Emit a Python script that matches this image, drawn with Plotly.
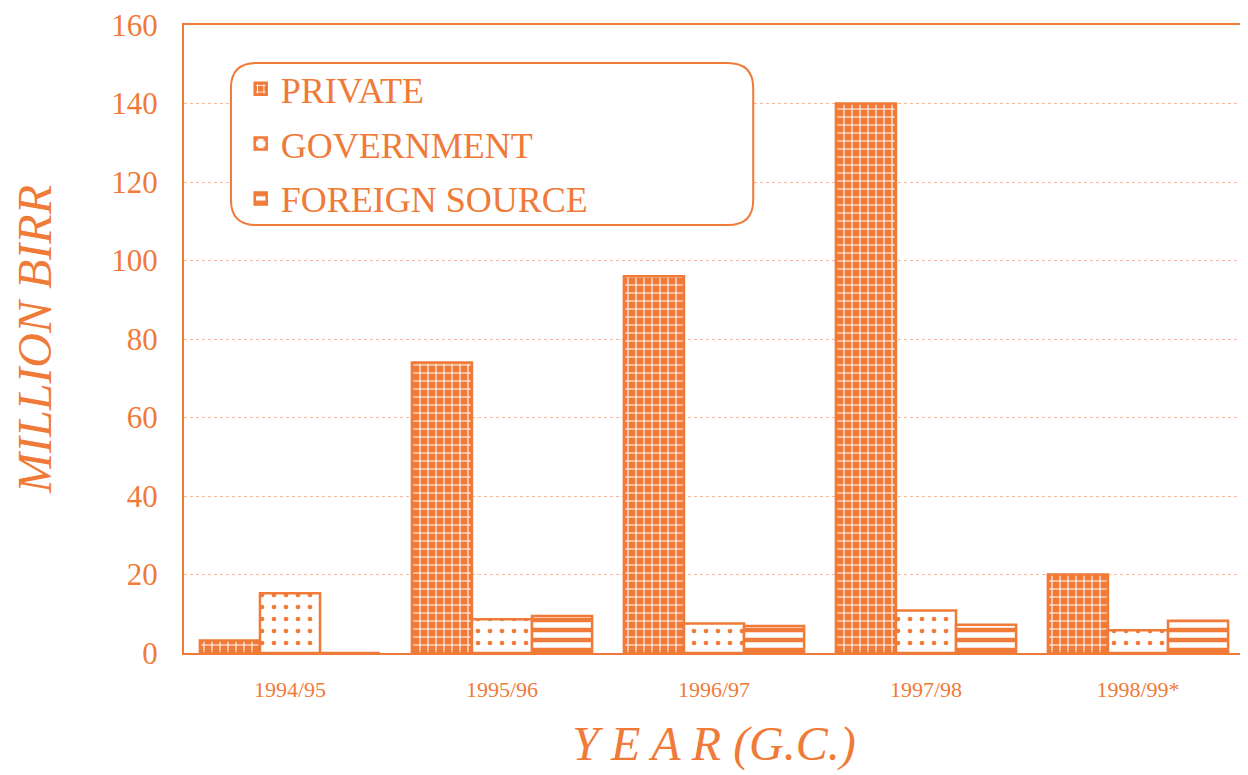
import plotly.graph_objects as go

years = ["1994/95", "1995/96", "1996/97", "1997/98", "1998/99*"]
private = [3.2, 74, 96, 140, 20]
government = [15.2, 8.6, 7.5, 10.8, 5.8]
foreign = [0, 9.4, 6.9, 7.2, 8.2]
y_ticks = [0, 20, 40, 60, 80, 100, 120, 140, 160]

OR = "#F07A38"
FONT = "Liberation Serif, Times New Roman, serif"

fig = go.Figure()
fig.add_trace(go.Bar(
    x=years, y=private, name="PRIVATE", legendgroup="a",
    marker=dict(color=OR, line=dict(color=OR, width=2.5),
                pattern=dict(shape="+", fgcolor="white", bgcolor=OR, fgopacity=1,
                             size=8, solidity=0.25)),
))
fig.add_trace(go.Bar(
    x=years, y=government, name="GOVERNMENT", legendgroup="b",
    marker=dict(color="white", line=dict(color=OR, width=2.5),
                pattern=dict(shape=".", fgcolor=OR, bgcolor="white", fgopacity=1,
                             size=12, solidity=0.12)),
))
fig.add_trace(go.Bar(
    x=years, y=foreign, name="FOREIGN SOURCE", legendgroup="c",
    marker=dict(color="white", line=dict(color=OR, width=2.5),
                pattern=dict(shape="-", fgcolor=OR, bgcolor="white", fgopacity=1,
                             size=10, solidity=0.45)),
))

# rounded legend frame (paper coords)
x0, x1, y0, y1 = 0.0443, 0.537, 0.6815, 0.9395
rx, ry = 0.024, 0.04
path = (f"M {x0+rx},{y1} L {x1-rx},{y1} Q {x1},{y1} {x1},{y1-ry} "
        f"L {x1},{y0+ry} Q {x1},{y0} {x1-rx},{y0} L {x0+rx},{y0} "
        f"Q {x0},{y0} {x0},{y0+ry} L {x0},{y1-ry} Q {x0},{y1} {x0+rx},{y1} Z")
fig.add_shape(type="path", path=path, xref="paper", yref="paper",
              line=dict(color=OR, width=2), fillcolor="white", layer="above")

fig.update_layout(
    width=1240, height=767,
    margin=dict(l=176, r=4, t=17, b=122, autoexpand=False),
    paper_bgcolor="white", plot_bgcolor="white",
    barmode="group", bargap=0.15, bargroupgap=0,
    font=dict(family=FONT, color=OR),
    legend=dict(x=0.0535, y=0.946, xanchor="left", yanchor="top",
                bgcolor="rgba(0,0,0,0)", borderwidth=0,
                font=dict(size=36, family=FONT, color=OR),
                traceorder="grouped", tracegroupgap=5,
                itemwidth=30),
    xaxis=dict(
        automargin=False,
        showline=True, linecolor=OR, linewidth=2, mirror=True,
        ticks="outside", ticklen=16, tickcolor="rgba(0,0,0,0)",
        tickfont=dict(size=22, family=FONT, color=OR),
        title=dict(text="<i>Y E A R (G.C.)</i>", font=dict(size=48, family=FONT, color=OR), standoff=25),
    ),
    yaxis=dict(
        automargin=False,
        range=[0, 160], tickvals=y_ticks, ticklabeloverflow="allow",
        showline=True, linecolor=OR, linewidth=2, mirror=True,
        showgrid=True, gridcolor="#F6B896", griddash="dot", gridwidth=1,
        zeroline=False,
        ticks="outside", ticklen=18, tickcolor="rgba(0,0,0,0)",
        tickfont=dict(size=31, family=FONT, color=OR),
        title=dict(text="<i>MILLION BIRR</i>", font=dict(size=48, family=FONT, color=OR), standoff=54),
    ),
)

fig.write_html("out.html")
